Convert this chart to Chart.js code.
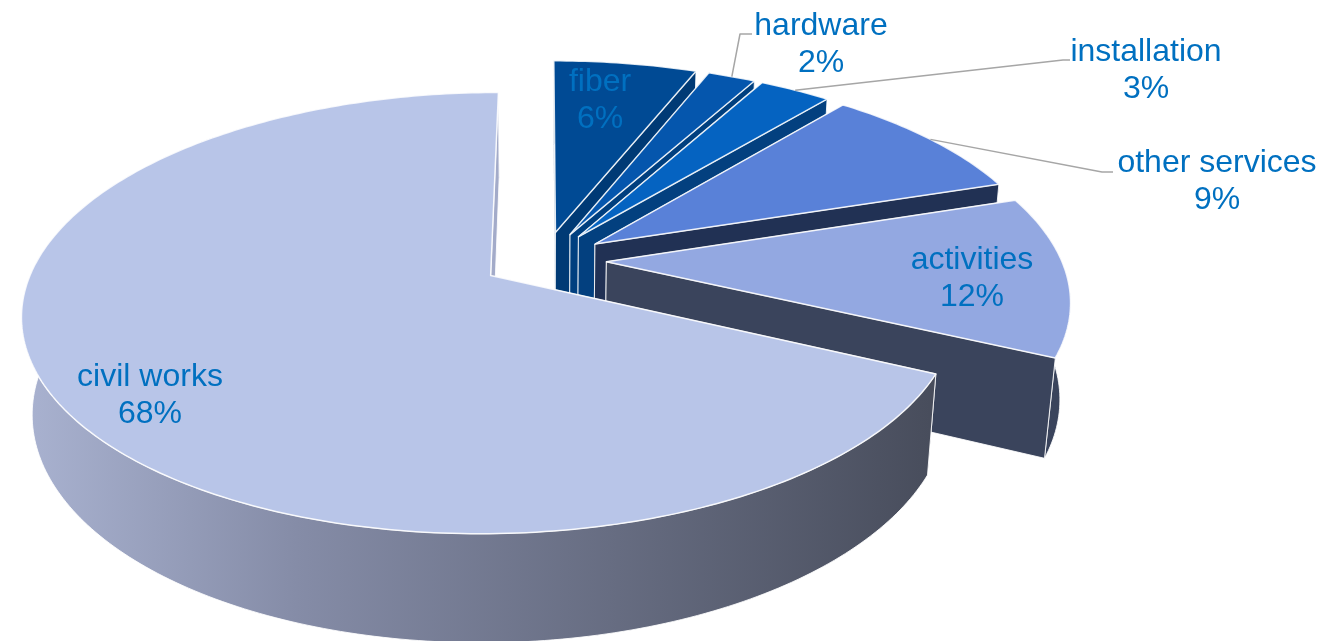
<!DOCTYPE html>
<html lang="en">
<head>
    <meta charset="UTF-8">
    <title>Cost breakdown</title>
    <script src="https://cdn.jsdelivr.net/npm/chart.js"></script>
    <style>
        html, body { margin: 0; padding: 0; background: #fff; overflow: hidden; }
        canvas { display: block; }
    </style>
</head>
<body>
    <canvas id="costPie" width="1319" height="641"></canvas>

    <script>
        const categories = ['fiber', 'hardware', 'installation', 'other services', 'activities', 'civil works'];
        const shares = [6, 2, 3, 9, 12, 68];
        const topColors = ['#004a94', '#0556ad', '#0563c1', '#5981d8', '#93a8e1', '#b8c5e8'];
        const wallColors = ['#003a75', '#003f7f', '#03407f', '#213154', '#3a445c', '#a3abc9'];

        // centre of each label block, and the elbow of its leader line if it has one
        const labelSpots = [[600, 100], [821, 44], [1146, 70], [1217, 181], [972, 278], [150, 395]];
        const leaderElbows = [null, [[740, 34], [752, 34]], [[1063, 60], [1070, 60]], [[1102, 172], [1113, 172]], null, null];

        // flat pie -> screen, u and v are in units of the pie radius, z=1 is the underside
        const view = { cx: 544, cy: 260, bx: 455, by: 209, tilt: 0.168, sink: 0.02, depth: 97 };

        function project(u, v, z) {
            const w = 1 - view.tilt * v + view.sink * z;
            return [view.cx + view.bx * u / w, view.cy + (view.by * v + view.depth * z) / w];
        }

        function arcFrame(arc) {
            const { startAngle, endAngle, outerRadius } = arc.getProps(['startAngle', 'endAngle', 'outerRadius'], true);
            // the arc element moves a slice by offset / 4 along its middle angle
            const shift = arc.options.offset / 4 / outerRadius;
            const mid = (startAngle + endAngle) / 2;
            return { startAngle, endAngle, mid, ox: Math.cos(mid) * shift, oy: Math.sin(mid) * shift };
        }

        function rimPoint(f, angle, z) {
            return project(f.ox + Math.cos(angle), f.oy + Math.sin(angle), z);
        }

        function rimPoints(f, z) {
            const pts = [];
            const steps = Math.max(4, Math.ceil((f.endAngle - f.startAngle) * 60));
            for (let i = 0; i <= steps; i++) {
                pts.push(rimPoint(f, f.startAngle + (f.endAngle - f.startAngle) * i / steps, z));
            }
            return pts;
        }

        function fillShape(ctx, pts, fill, line, lineWidth) {
            ctx.beginPath();
            pts.forEach((p, i) => i ? ctx.lineTo(p[0], p[1]) : ctx.moveTo(p[0], p[1]));
            ctx.closePath();
            ctx.fillStyle = fill;
            ctx.fill();
            ctx.strokeStyle = line;
            ctx.lineWidth = lineWidth;
            ctx.lineJoin = 'round';
            ctx.stroke();
        }

        function drawSlice(ctx, arc, i, last) {
            const f = arcFrame(arc);
            const apexTop = project(f.ox, f.oy, 0);
            const apexLow = project(f.ox, f.oy, 1);
            const top = rimPoints(f, 0);
            const low = rimPoints(f, 1);

            let rim = wallColors[i];
            if (last) {
                // the big slice's rim shades from light on the left to dark on the right
                rim = ctx.createLinearGradient(25, 0, 930, 0);
                rim.addColorStop(0, '#a9b2d0');
                rim.addColorStop(0.3, '#858ca7');
                rim.addColorStop(1, '#484d5c');
            }
            const edge = 'rgba(255,255,255,0.85)';

            // back to front: start side, rim, end side, then the top face hides the rest
            fillShape(ctx, [apexTop, top[0], low[0], apexLow], rim, edge, 1);
            fillShape(ctx, top.concat(low.slice().reverse()), rim, edge, 1);
            fillShape(ctx, [apexTop, top[top.length - 1], low[low.length - 1], apexLow], wallColors[i], edge, 1);
            fillShape(ctx, [apexTop].concat(top), arc.options.backgroundColor, edge, 1.5);
        }

        const pie3d = {
            id: 'pie3d',
            beforeDatasetDraw(chart) {
                const arcs = chart.getDatasetMeta(0).data;
                arcs.forEach((arc, i) => drawSlice(chart.ctx, arc, i, i === arcs.length - 1));
                return false;
            },
            afterDatasetsDraw(chart) {
                const ctx = chart.ctx;
                const arcs = chart.getDatasetMeta(0).data;

                ctx.strokeStyle = '#a6a6a6';
                ctx.lineWidth = 1.5;
                arcs.forEach((arc, i) => {
                    if (!leaderElbows[i]) return;
                    const f = arcFrame(arc);
                    const from = rimPoint(f, f.mid, 0);
                    ctx.beginPath();
                    ctx.moveTo(from[0], from[1]);
                    leaderElbows[i].forEach(p => ctx.lineTo(p[0], p[1]));
                    ctx.stroke();
                });

                ctx.fillStyle = '#0070c0';
                ctx.font = '32px "Liberation Sans", Arial, sans-serif';
                ctx.textAlign = 'center';
                ctx.textBaseline = 'middle';
                categories.forEach((name, i) => {
                    const [x, y] = labelSpots[i];
                    ctx.fillText(name, x, y - 18);
                    ctx.fillText(shares[i] + '%', x, y + 19);
                });
            }
        };

        new Chart(document.getElementById('costPie').getContext('2d'), {
            type: 'pie',
            data: {
                labels: categories,
                datasets: [{
                    data: shares,
                    backgroundColor: topColors,
                    offset: 138,
                    borderWidth: 0
                }]
            },
            options: {
                responsive: false,
                animation: false,
                layout: { padding: 0 },
                plugins: {
                    legend: { display: false },
                    tooltip: { enabled: false }
                }
            },
            plugins: [pie3d]
        });
    </script>
</body>
</html>
